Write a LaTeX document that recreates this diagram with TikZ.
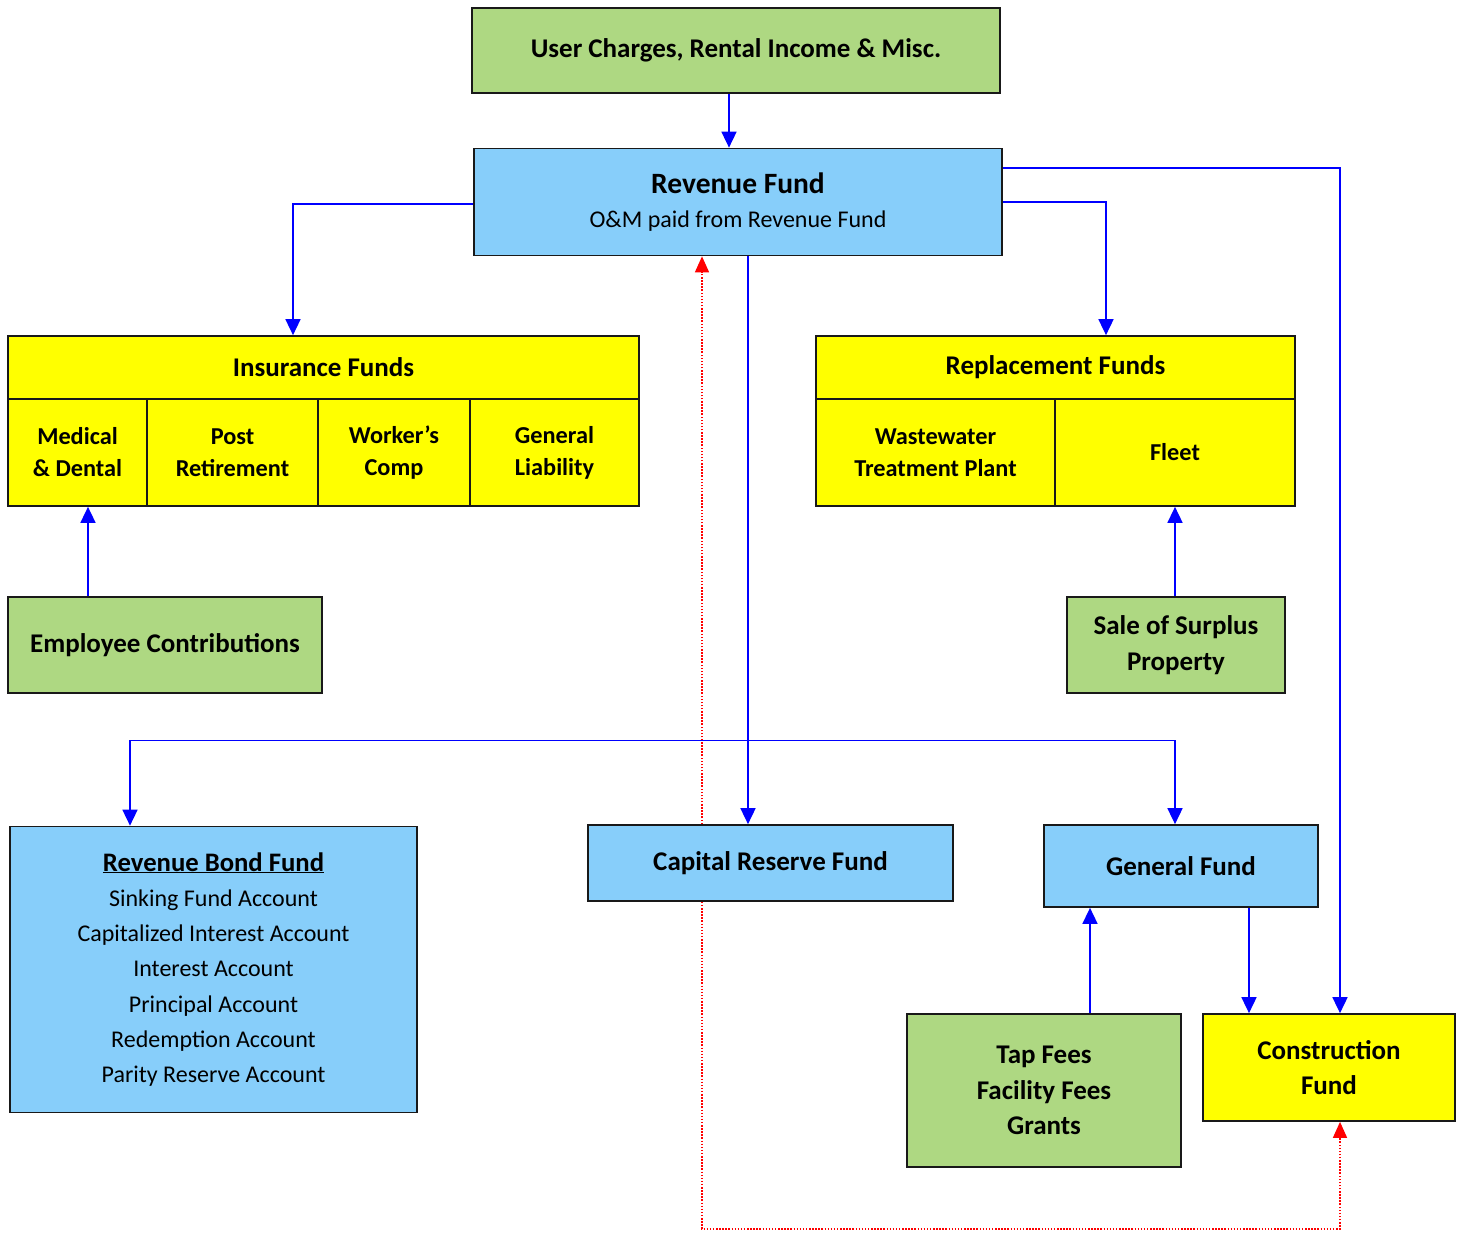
\documentclass[tikz,border=0pt]{standalone}
\usepackage{fontspec}
\setmainfont{Carlito}
\usetikzlibrary{calc,arrows.meta}
\definecolor{srcgreen}{RGB}{174,216,130}
\definecolor{fundblue}{RGB}{135,206,250}
\definecolor{fundyellow}{RGB}{255,255,0}
\tikzset{
	box/.style={draw=black!90, line width=1.7pt, align=center, inner sep=0pt, font=\bfseries\fontsize{27}{35.5}\selectfont},
	srcbox/.style={box, fill=srcgreen},
	bluebox/.style={box, fill=fundblue},
	yelbox/.style={box, fill=fundyellow},
	cellbox/.style={yelbox, minimum height=107, font=\bfseries\fontsize{24.3}{32}\selectfont},
	flow/.style={draw=blue, line width=1.6pt, -{Triangle[length=16pt,width=15pt]}},
	redflow/.style={draw=red, line width=1.5pt, dash pattern=on 1.5pt off 1.6pt, -{Triangle[length=16pt,width=14pt]}}
}

\begin{document}
\begin{tikzpicture}[x=1pt, y=-1pt]
			%%%%% START %%%%%
			\useasboundingbox (0, 0) rectangle (1463, 1232);
			
			\node[srcbox, minimum width=528, minimum height=85] (charges) at (736, 50.5) {User Charges, Rental Income \& Misc.};
			\node[bluebox, minimum width=528, minimum height=107, font=\fontsize{24}{34}\selectfont] (revenue) at (738, 202) {{\bfseries\fontsize{29.5}{34}\selectfont Revenue Fund}\\O\&M paid from Revenue Fund};
			
			\node[yelbox, minimum width=631, minimum height=63] (insurance) at (323.5, 367.5) {Insurance Funds};
			\node[cellbox, minimum width=139] (medical) at (77.5, 452.5) {Medical\\\& Dental};
			\node[cellbox, minimum width=171] (post) at (232.5, 452.5) {Post\\Retirement};
			\node[cellbox, minimum width=152] (workers) at (394, 452.5) {Worker’s\\Comp};
			\node[cellbox, minimum width=169] (liability) at (554.5, 452.5) {General\\Liability};
			
			\node[yelbox, minimum width=479, minimum height=63] (replacement) at (1055.5, 367.5) {Replacement Funds};
			\node[cellbox, minimum width=239] (plant) at (935.5, 452.5) {Wastewater\\Treatment Plant};
			\node[cellbox, minimum width=240] (fleet) at (1175, 452.5) {Fleet};
			
			\node[srcbox, minimum width=314, minimum height=96] (employee) at (165, 645) {Employee Contributions};
			\node[srcbox, minimum width=218, minimum height=96] (surplus) at (1176, 645) {Sale of Surplus\\Property};
			
			\node[bluebox, minimum width=407, minimum height=286, font=\fontsize{24}{35.3}\selectfont] (bond) at (213.5, 969.5) {\underline{\bfseries\fontsize{26.7}{35}\selectfont Revenue Bond Fund}\\Sinking Fund Account\\Capitalized Interest Account\\Interest Account\\Principal Account\\Redemption Account\\Parity Reserve Account};
			\node[bluebox, minimum width=365, minimum height=76] (capital) at (770.5, 863) {Capital Reserve Fund};
			\node[bluebox, minimum width=274, minimum height=82] (general) at (1181, 866) {General Fund};
			\node[srcbox, minimum width=274, minimum height=153] (tap) at (1044, 1090.5) {Tap Fees\\Facility Fees\\Grants};
			\node[yelbox, minimum width=252, minimum height=107] (construction) at (1329, 1067.5) {Construction\\Fund};
			
			\draw[flow] ($(charges.south)+(-7, 0)$) -- ($(revenue.north)+(-9, 0)$);
			\draw[flow] ($(revenue.west)+(0, 2)$) -| ($(insurance.north)+(-30.5, 0)$);
			\draw[flow] ($(revenue.east)+(0, 0)$) -| ($(replacement.north)+(50.5, 0)$);
			\draw[flow] ($(revenue.east)+(0, -34)$) -| ($(construction.north)+(11, 0)$);
			
			\draw[flow] ($(revenue.south)+(10, 0)$) -- ($(capital.north)+(-22.5, 0)$);
			\coordinate (split) at ($(revenue.south)+(10, 484)$);
			\draw[flow] (split) -| ($(bond.north)+(-83.5, 0)$);
			\draw[flow] (split) -| ($(general.north)+(-6, 0)$);
			
			\draw[flow] ($(employee.north)+(-77, 0)$) coordinate (e1) -- (e1 |- medical.south);
			\draw[flow] ($(surplus.north)+(-1, 0)$) coordinate (s1) -- (s1 |- fleet.south);
			\draw[flow] ($(tap.north)+(46, 0)$) coordinate (t1) -- (t1 |- general.south);
			\draw[flow] ($(general.south)+(68, 0)$) coordinate (g1) -- (g1 |- construction.north);
			
			\draw[redflow] ($(capital.north)+(-68.5, 0)$) coordinate (r1) -- (r1 |- revenue.south);
			\draw[redflow] ($(capital.south)+(-68.5, 0)$) -- ++(0, 327) -| ($(construction.south)+(11, 0)$);
			
			%%%%% END %%%%%
\end{tikzpicture}
\end{document}
